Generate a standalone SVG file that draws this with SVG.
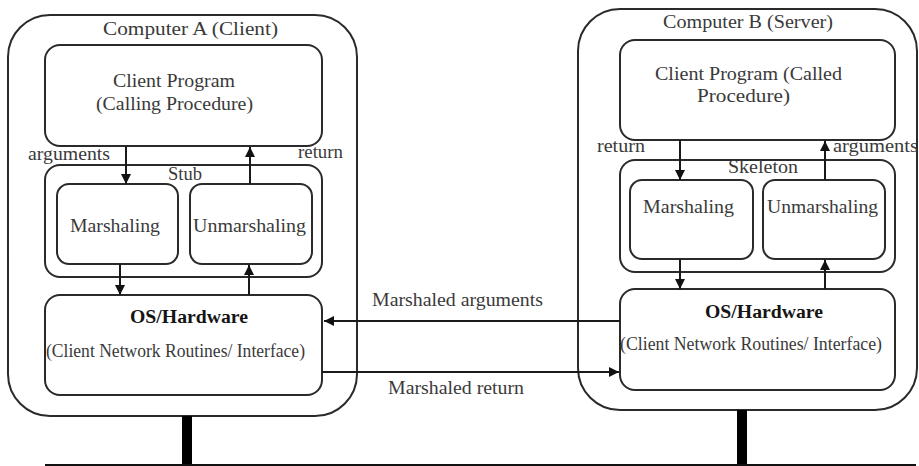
<svg xmlns="http://www.w3.org/2000/svg" width="919" height="466" viewBox="0 0 919 466">
<defs>
  <marker id="arrow" viewBox="0 0 10 10" refX="10" refY="5" markerWidth="10" markerHeight="10" markerUnits="userSpaceOnUse" orient="auto">
    <path d="M0,0 L10,5 L0,10 Z" fill="#111"/>
  </marker>
  <style>
    .box { fill: #fff; stroke: #2a2a2a; stroke-width: 2; }
    .outer { fill: none; stroke: #2a2a2a; stroke-width: 2; }
    text { font-family: "Liberation Serif", "Times New Roman", serif; font-size: 18px; fill: #3a3a3a; }
    .b { font-weight: bold; fill: #151515; }
    .ln { stroke: #1a1a1a; stroke-width: 2; fill: none; }
    .bar { fill: #000; }
  </style>
</defs>
<rect width="919" height="466" fill="#fff"/>

<!-- Computer A (client side) -->
<g id="computer-a">
  <rect class="outer" x="8" y="15" width="349" height="401" rx="42"/>
  <text x="103" y="35" textLength="175" lengthAdjust="spacingAndGlyphs">Computer A (Client)</text>
</g>
<g id="client-program-a">
  <rect class="box" x="45" y="45" width="277" height="101" rx="15"/>
  <text x="113" y="87" textLength="122" lengthAdjust="spacingAndGlyphs">Client Program</text>
  <text x="96" y="110" textLength="157" lengthAdjust="spacingAndGlyphs">(Calling Procedure)</text>
</g>
<g id="stub">
  <rect class="box" x="45" y="165" width="277" height="112" rx="15"/>
  <text x="168" y="180" textLength="34" lengthAdjust="spacingAndGlyphs">Stub</text>
</g>
<g id="marshaling-a">
  <rect class="box" x="57" y="184" width="121" height="80" rx="12"/>
  <text x="70" y="232" textLength="90" lengthAdjust="spacingAndGlyphs">Marshaling</text>
</g>
<g id="unmarshaling-a">
  <rect class="box" x="190" y="184" width="122" height="80" rx="12"/>
  <text x="193" y="232" textLength="113" lengthAdjust="spacingAndGlyphs">Unmarshaling</text>
</g>
<g id="os-a">
  <rect class="box" x="45" y="295" width="277" height="100" rx="15"/>
  <text class="b" x="130" y="323" textLength="118" lengthAdjust="spacingAndGlyphs">OS/Hardware</text>
  <text x="46" y="357" textLength="259" lengthAdjust="spacingAndGlyphs">(Client Network Routines/ Interface)</text>
</g>

<!-- Computer B (server side) -->
<g id="computer-b">
  <rect class="outer" x="578" y="9" width="339" height="401" rx="42"/>
  <text x="663" y="28" textLength="170" lengthAdjust="spacingAndGlyphs">Computer B (Server)</text>
</g>
<g id="client-program-b">
  <rect class="box" x="620" y="40" width="275" height="100" rx="15"/>
  <text x="655" y="80" textLength="187" lengthAdjust="spacingAndGlyphs">Client Program (Called</text>
  <text x="697" y="102" textLength="93" lengthAdjust="spacingAndGlyphs">Procedure)</text>
</g>
<g id="skeleton">
  <rect class="box" x="620" y="160" width="275" height="112" rx="15"/>
  <text x="728" y="173" textLength="70" lengthAdjust="spacingAndGlyphs">Skeleton</text>
</g>
<g id="marshaling-b">
  <rect class="box" x="630" y="180" width="123" height="79" rx="12"/>
  <text x="643" y="213" textLength="91" lengthAdjust="spacingAndGlyphs">Marshaling</text>
</g>
<g id="unmarshaling-b">
  <rect class="box" x="763" y="180" width="122" height="79" rx="12"/>
  <text x="767" y="213" textLength="111" lengthAdjust="spacingAndGlyphs">Unmarshaling</text>
</g>
<g id="os-b">
  <rect class="box" x="620" y="289" width="275" height="101" rx="15"/>
  <text class="b" x="705" y="318" textLength="118" lengthAdjust="spacingAndGlyphs">OS/Hardware</text>
  <text x="620" y="350" textLength="262" lengthAdjust="spacingAndGlyphs">(Client Network Routines/ Interface)</text>
</g>

<!-- network backbone and drops -->
<g id="network">
  <rect class="bar" x="182" y="416" width="10" height="50"/>
  <rect class="bar" x="737" y="410" width="10" height="56"/>
  <line x1="45" y1="465" x2="916" y2="465" stroke="#111" stroke-width="2"/>
</g>

<!-- connectors and their labels -->
<g id="connectors">
  <line class="ln" x1="126" y1="146" x2="126" y2="184" marker-end="url(#arrow)"/>
  <line class="ln" x1="250" y1="184" x2="250" y2="147" marker-end="url(#arrow)"/>
  <line class="ln" x1="120" y1="264" x2="120" y2="295" marker-end="url(#arrow)"/>
  <line class="ln" x1="249" y1="295" x2="249" y2="265" marker-end="url(#arrow)"/>
  <line class="ln" x1="680" y1="140" x2="680" y2="180" marker-end="url(#arrow)"/>
  <line class="ln" x1="825" y1="180" x2="825" y2="141" marker-end="url(#arrow)"/>
  <line class="ln" x1="680" y1="259" x2="680" y2="289" marker-end="url(#arrow)"/>
  <line class="ln" x1="825" y1="289" x2="825" y2="260" marker-end="url(#arrow)"/>
  <line class="ln" x1="620" y1="321" x2="324" y2="321" marker-end="url(#arrow)"/>
  <line class="ln" x1="322" y1="372" x2="619" y2="372" marker-end="url(#arrow)"/>
  <text x="28" y="160" textLength="82" lengthAdjust="spacingAndGlyphs">arguments</text>
  <text x="298" y="158" textLength="45" lengthAdjust="spacingAndGlyphs">return</text>
  <text x="597" y="152" textLength="48" lengthAdjust="spacingAndGlyphs">return</text>
  <text x="833" y="152" textLength="85" lengthAdjust="spacingAndGlyphs">arguments</text>
  <text x="372" y="306" textLength="171" lengthAdjust="spacingAndGlyphs">Marshaled arguments</text>
  <text x="388" y="394" textLength="136" lengthAdjust="spacingAndGlyphs">Marshaled return</text>
</g>
</svg>
